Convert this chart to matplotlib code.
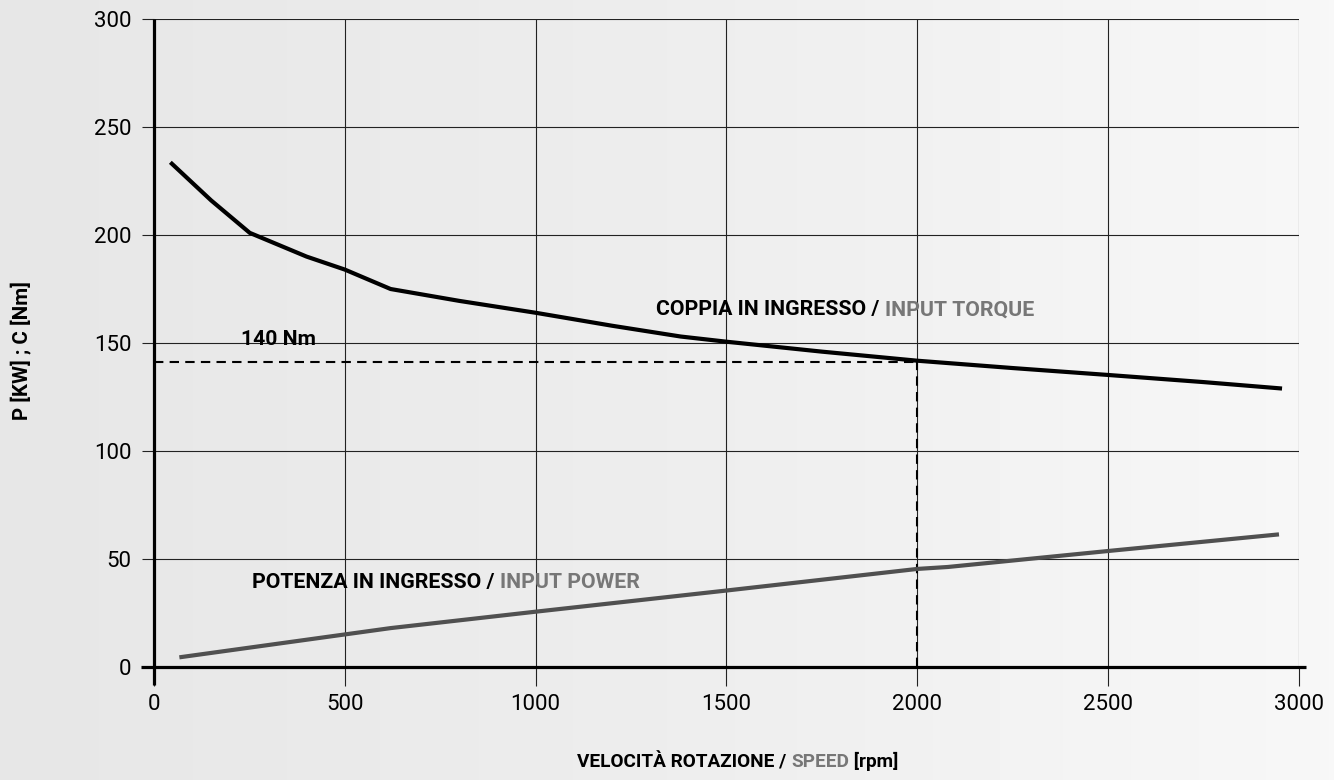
import numpy as np
import matplotlib
matplotlib.use("Agg")
import matplotlib.pyplot as plt

# torque curve (rpm, Nm)
torque_rpm = [47, 150, 251, 400, 500, 620, 800, 1000, 1200, 1380, 1500, 1750, 2000, 2250, 2500, 2750, 2950]
torque_nm = [233, 216, 201, 190, 184, 175, 169.5, 164, 158, 153, 150.6, 146, 141.8, 138.4, 135.2, 131.9, 129]

# power curve (rpm, kW)
power_rpm = [72, 620, 1000, 1500, 2000, 2080, 2500, 2942]
power_kw = [4.6, 18, 25.6, 35.4, 45.4, 46.3, 53.7, 61.3]

# reference point
ref_rpm = 2000
ref_nm = 141
ref_label = "140 Nm"

x_ticks = [0, 500, 1000, 1500, 2000, 2500, 3000]
y_ticks = [0, 50, 100, 150, 200, 250, 300]

plt.rcParams['font.family'] = ['Roboto', 'DejaVu Sans']

fig = plt.figure(figsize=(13.34, 7.8), dpi=100)

# background gradient
bg = fig.add_axes([0, 0, 1, 1], zorder=-10)
grad = np.linspace(0, 1, 256).reshape(1, -1)
bg.imshow(grad, cmap=matplotlib.colors.LinearSegmentedColormap.from_list(
    "bg", ["#e7e7e7", "#eeeeee", "#f8f8f8"]), aspect="auto", extent=[0, 1, 0, 1])
bg.axis("off")

ax = fig.add_axes([0.1154, 0.1449, 0.8584, 0.8307])
ax.set_facecolor("none")
ax.set_xlim(0, 3000)
ax.set_ylim(0, 300)

for s in ax.spines.values():
    s.set_visible(False)

ax.set_xticks(x_ticks)
ax.set_yticks(y_ticks)
ax.tick_params(axis="x", direction="out", length=13.5, width=0.8, color="#222222",
               labelsize=16, pad=6)
ax.tick_params(axis="y", direction="out", length=9, width=0.8, color="#222222",
               labelsize=16, pad=7)
ax.grid(True, color="#222222", linewidth=0.8)
ax.set_axisbelow(True)

# thick axes lines
ax.plot([-34, 3017], [0, 0], color="black", linewidth=2.3, clip_on=False, zorder=3,
        solid_capstyle="butt")
ax.plot([0, 0], [-8.5, 300], color="black", linewidth=2.3, clip_on=False, zorder=3,
        solid_capstyle="butt")

# curves
ax.plot(torque_rpm, torque_nm, color="black", linewidth=3, zorder=4, clip_on=False)
ax.plot(power_rpm, power_kw, color="#505050", linewidth=3, zorder=4, clip_on=False)

# reference dashed lines
ax.plot([0, ref_rpm], [ref_nm, ref_nm], color="black", linewidth=1.5,
        dashes=(4.5, 3), zorder=3)
ax.plot([ref_rpm, ref_rpm], [0, ref_nm], color="black", linewidth=1.5,
        dashes=(4.5, 3), zorder=3)
ax.text(228, 151.5, ref_label, fontsize=15.2, fontweight="bold", va="center", ha="left")

# curve labels
def two_tone(x, y, dark, light, size=15.3):
    t = ax.text(x, y, dark, fontsize=size, fontweight="bold", color="black",
                va="center", ha="left")
    fig.canvas.draw()
    ax.annotate(light, xycoords=t, xy=(1, 0.5), va="center", ha="left",
                fontsize=size, fontweight="bold", color="#777777")

two_tone(1315, 165.3, "COPPIA IN INGRESSO / ", "INPUT TORQUE")
two_tone(258, 38.9, "POTENZA IN INGRESSO / ", "INPUT POWER")

# axis titles
yl = 0.011
xl = fig.text(0.5, yl, "VELOCITÀ ROTAZIONE / ", fontsize=13.7, fontweight="bold",
              ha="left", va="bottom")
xl2 = fig.text(0, yl, "SPEED", fontsize=13.7, fontweight="bold", color="#777777",
               va="bottom")
xl3 = fig.text(0, yl, " [rpm]", fontsize=13.7, fontweight="bold", color="black",
               va="bottom")
fig.canvas.draw()
r = fig.canvas.get_renderer()
w1 = xl.get_window_extent(r).width
w2 = xl2.get_window_extent(r).width
w3 = xl3.get_window_extent(r).width
total = (w1 + w2 + w3) / fig.bbox.width
x0 = 0.553 - total / 2
xl.set_x(x0)
xl2.set_x(x0 + w1 / fig.bbox.width)
xl3.set_x(x0 + (w1 + w2) / fig.bbox.width)

fig.text(0.0154, 0.55, "P [KW] ; C [Nm]", rotation=90, fontsize=14.8, fontweight="bold",
         ha="center", va="center")

fig.savefig("out.png", dpi=100)
